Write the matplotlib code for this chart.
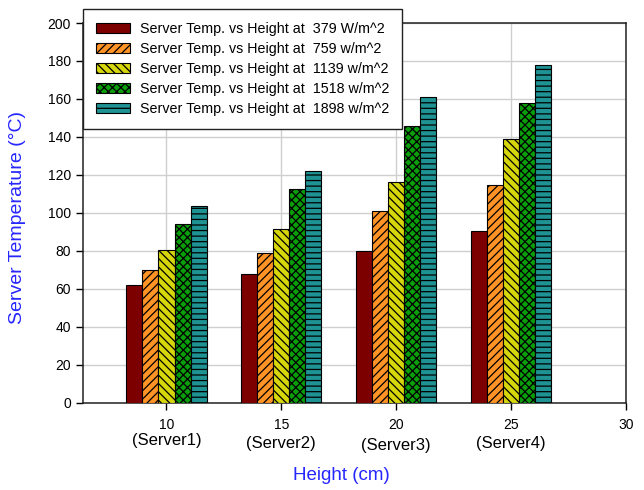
import numpy as np
import matplotlib
matplotlib.use("Agg")
import matplotlib.pyplot as plt
import matplotlib.transforms as mtransforms

plt.rcParams['font.family'] = ['Liberation Sans', 'DejaVu Sans']
plt.rcParams['hatch.linewidth'] = 0.9

# data
heights = [10, 15, 20, 25]
servers = ["(Server1)", "(Server2)", "(Server3)", "(Server4)"]
series_labels = [
    "Server Temp. vs Height at  379 W/m^2",
    "Server Temp. vs Height at  759 w/m^2",
    "Server Temp. vs Height at  1139 w/m^2",
    "Server Temp. vs Height at  1518 w/m^2",
    "Server Temp. vs Height at  1898 w/m^2",
]
temp_379 = [62, 68, 80, 90.5]
temp_759 = [70, 79, 101, 114.5]
temp_1139 = [80.5, 91.5, 116.5, 139]
temp_1518 = [94, 112.5, 145.5, 158]
temp_1898 = [103.5, 122, 161, 178]
xticks = [10, 15, 20, 25, 30]

colors = ['#7d0000', '#ff9326', '#d6d60a', '#0a9e0a', '#1f9393']
hatches = ['', '////', '\\\\\\\\', 'xxxx', '---']
series = [temp_379, temp_759, temp_1139, temp_1518, temp_1898]
# server captions sit a little unevenly under the ticks in the original
server_y = [-0.099, -0.108, -0.112, -0.108]

fig = plt.figure(figsize=(6.44, 4.9), dpi=100)
ax = fig.add_axes([0.1284, 0.1782, 0.8432, 0.7748])

bar_w = 0.7
x = np.array(heights, dtype=float)
for i, (vals, col, hat, lab) in enumerate(zip(series, colors, hatches, series_labels)):
    off = (i - 2) * bar_w
    ax.bar(x + off, vals, width=bar_w, color=col, edgecolor='black',
           linewidth=0.8, hatch=hat, label=lab, zorder=3)

ax.set_xlim(6.35, 30)
ax.set_ylim(0, 200)
ax.set_yticks(range(0, 201, 20))
ax.set_xticks(xticks)
ax.tick_params(direction='out', length=5, width=1, labelsize=10, colors='black')
ax.tick_params(axis='x', pad=6)

trans = mtransforms.blended_transform_factory(ax.transData, ax.transAxes)
for h, s, yy in zip(heights, servers, server_y):
    ax.text(h, yy, s, transform=trans, ha='center', va='center', fontsize=12)

ax.grid(True, color='#cfcfcf', linewidth=1, zorder=0)
ax.set_axisbelow(True)
for sp in ax.spines.values():
    sp.set_color('#222222')
    sp.set_linewidth(1.1)

ax.set_xlabel("Height (cm)", color='#2626ff', fontsize=13.5)
ax.xaxis.set_label_coords(0.476, -0.193)
ax.xaxis.label.set_va('center')
ax.set_ylabel("Server Temperature (°C)", color='#2626ff', fontsize=14)
ax.yaxis.set_label_coords(-0.12, 0.489)
ax.yaxis.label.set_va('center')

leg = ax.legend(loc='upper left', bbox_to_anchor=(83 / 644, 1 - 9 / 490),
                bbox_transform=fig.transFigure, borderaxespad=0,
                fontsize=10.3, fancybox=False, framealpha=1,
                edgecolor='#222222', handlelength=2.4, handleheight=0.75,
                labelspacing=0.42, handletextpad=0.65, borderpad=0.9)
leg.get_frame().set_linewidth(1.0)
leg.set_zorder(5)

fig.savefig("out.png", dpi=100)
